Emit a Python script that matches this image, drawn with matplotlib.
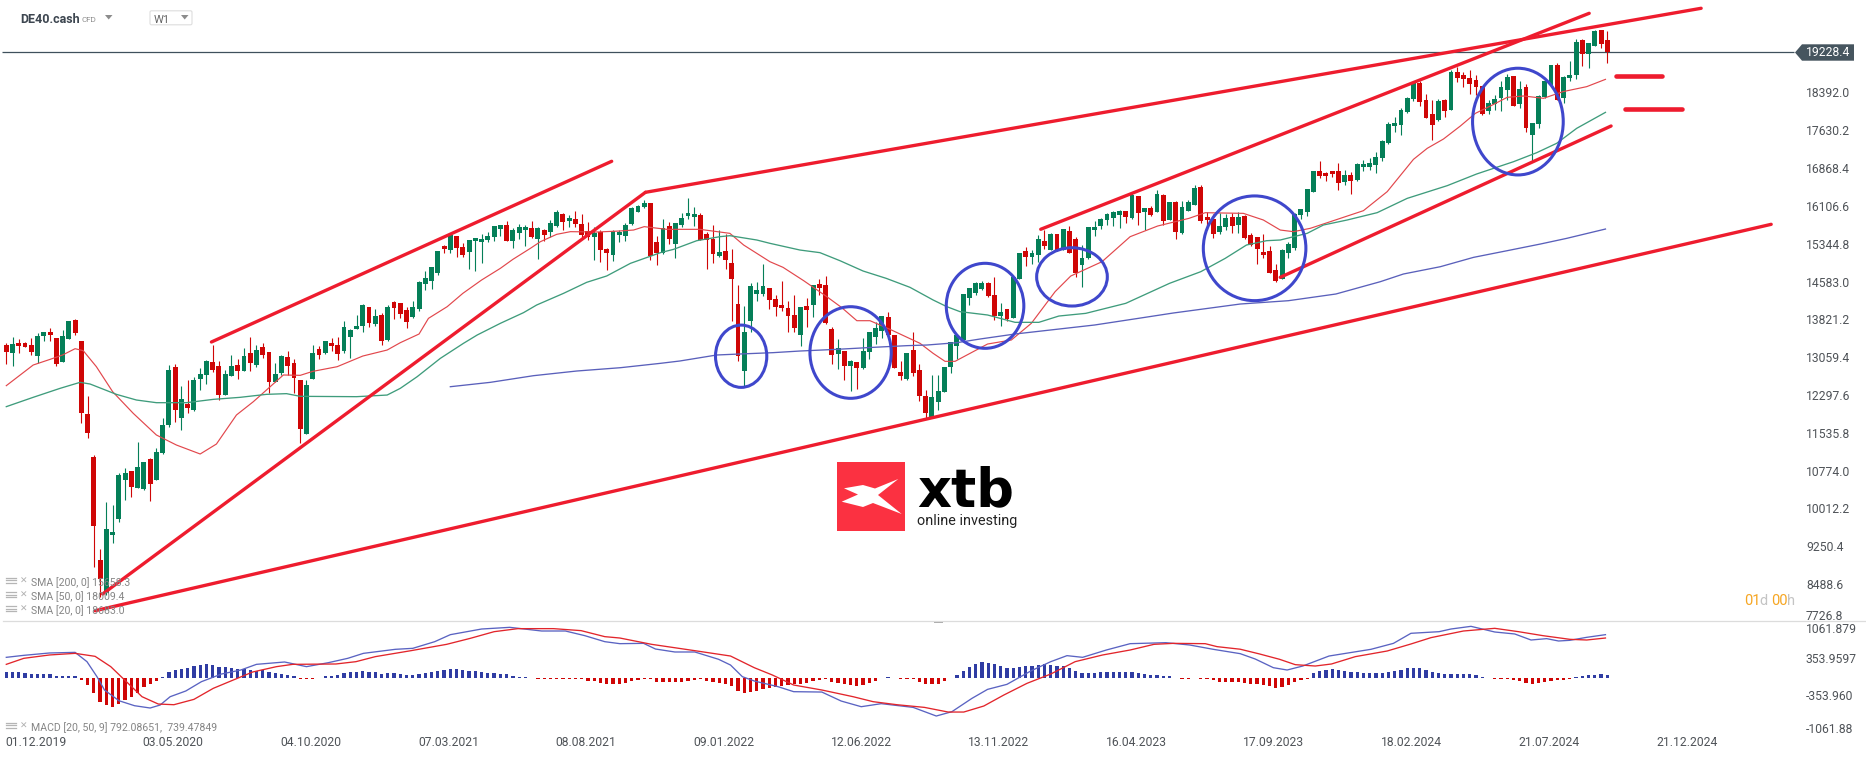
import numpy as np
import matplotlib
matplotlib.use("Agg")
import matplotlib.pyplot as plt
from matplotlib.patches import Ellipse, Polygon, Rectangle, FancyBboxPatch

plt.rcParams["font.family"] = ["Roboto", "DejaVu Sans"]

# weekly candles DE40.cash
opens = [13334,13180,13375,13375,13334,13119,13522,13596,13475,12998,
13462,13838,13415,11944,11077,9002,8330,9505,9828,10614,
10795,10453,10432,11037,10614,11158,11722,12891,11863,12145,
12024,12649,12730,12992,12911,12327,12710,12931,12810,13173,
12931,13294,13193,12589,12770,13092,12971,12629,11541,12649,
13254,13173,13374,13334,13213,13495,13656,13717,14100,13757,
13939,13435,14201,14180,14039,13898,14060,14563,14624,14785,
15329,15248,15531,15309,15208,15430,15410,15450,15510,15672,
15752,15430,15591,15651,15692,15470,15651,15611,15732,15974,
15833,15873,15772,15631,15510,15611,15269,15148,15551,15531,
15772,16014,16115,16196,15410,15188,15732,15369,15752,15934,
15914,15954,15571,15470,15128,15228,14986,14160,12810,13818,
14362,14362,14483,14261,14140,14080,13939,13536,14120,14140,
14563,14543,13656,13153,13213,12911,12991,12871,13193,13496,
13616,13898,13536,12790,12649,13233,12830,12306,11883,12185,
12387,12891,13314,13435,14281,14382,14462,14584,14342,13925,
14060,13878,14664,15228,15107,15148,15430,15248,15571,15248,
15631,15470,14946,15087,15651,15732,15853,15893,15954,16034,
15893,16337,16014,16095,16014,16357,15853,16216,15591,16034,
16155,16518,15913,15873,15611,15712,15913,15752,15934,15551,
15510,15208,15228,14845,14664,15188,15282,15954,16014,16417,
16840,16800,16840,16840,16619,16760,16659,16921,16921,16961,
17102,17404,17747,17767,18029,18291,18614,18271,17989,17868,
18271,18069,18835,18775,18714,18674,18553,18049,18190,18311,
18472,18755,18190,18533,17566,17787,18338,18573,18976,18311,
18714,18775,19480,19198,19359,19681,19480]

highs = [13368,13489,13448,13388,13475,13569,13589,13670,13475,13636,
13825,13858,13415,12307,11118,9223,10171,10110,10748,10856,
10795,11380,10977,11057,11265,11863,12931,12951,12508,12629,
12683,12864,13025,13334,13012,12830,13133,13052,13274,13495,
13334,13375,13193,12971,13133,13213,13052,12629,12629,13334,
13314,13415,13475,13495,13818,13656,13939,14160,14100,14060,
13979,14140,14221,14180,14100,14221,14624,14825,14906,15228,
15349,15571,15531,15390,15450,15490,15571,15611,15732,15752,
15833,15692,15772,15752,15833,15712,15672,15853,16054,15994,
15954,16034,15974,15813,15712,15651,15289,15651,15651,15792,
16115,16155,16256,16196,15531,15873,15813,15793,15994,16296,
16115,15994,15611,15752,15651,15571,15269,14543,14120,14583,
14604,14966,14483,14342,14624,14221,14342,14100,14281,14543,
14664,14725,13697,13455,13213,13032,12991,13475,13596,13798,
13918,13999,13536,13012,13173,13596,12951,12427,12730,12730,
12891,13394,13536,14362,14483,14604,14624,14604,14710,14180,
14060,14711,15188,15309,15248,15551,15651,15584,15571,15672,
15732,15510,15349,15712,15833,15893,15987,16034,16054,16034,
16417,16337,16095,16135,16457,16377,16216,16236,16236,16256,
16558,16558,16014,15974,15994,15974,15994,16014,15954,15591,
15510,15571,15329,14966,15269,15409,15987,16068,16477,16840,
17042,16820,16840,17001,16860,16820,17001,17062,17102,17223,
17465,17828,17928,18110,18331,18647,18647,18392,18271,18291,
18291,18875,18936,18835,18875,18775,18553,18271,18372,18654,
18795,18755,18654,18593,17807,18372,18674,18976,19010,18755,
19057,19500,19500,19420,19681,19681,19661]

lows = [12951,12918,13180,13294,13139,12978,13408,13422,12918,12992,
13455,13542,11769,11467,8867,8263,8296,9351,9774,10211,
10271,10446,10412,10191,10614,11144,11682,11783,11621,11964,
11998,12427,12548,12790,12226,12320,12703,12649,12804,12810,
12891,13072,12367,12582,12730,12730,12367,11359,11534,12649,
13052,13159,13213,13032,13173,13072,13650,13596,13697,13717,
13334,13415,13858,13878,13677,13878,14019,14442,14463,14745,
15188,15188,15107,15107,14866,14825,14986,15410,15430,15531,
15430,15289,15470,15329,15490,15067,15430,15510,15712,15651,
15712,15712,15470,15450,15047,15007,14845,15027,15410,15430,
15759,16007,16101,15047,14946,15168,15369,15087,15712,15873,
15732,15443,14866,14986,15107,14866,13818,13012,12508,13596,
14221,14321,14060,13918,14019,13596,13596,13314,13697,13898,
14342,13757,12951,12850,12629,12407,12447,12850,13052,13354,
13475,13536,12871,12629,12629,12709,12206,11863,11863,12024,
12380,12770,13052,13401,14140,14342,14442,14300,13838,13723,
13820,13878,14657,14926,14966,15007,15269,15248,15228,15248,
15181,14704,14503,15067,15531,15672,15752,15732,15692,15792,
15873,15752,15651,15934,16007,15752,15846,15470,15571,16028,
16148,15792,15651,15490,15571,15651,15591,15591,15470,15329,
14966,15087,14785,14604,14664,15087,15248,15873,15933,16410,
16699,16639,16719,16457,16558,16377,16639,16840,16860,16800,
17042,17384,17626,17566,18009,18251,18150,17908,17465,17848,
17928,18069,18634,18533,18392,18372,17969,17989,18069,18049,
18271,18150,18116,17626,17022,17707,18305,18553,18271,18210,
18654,18694,18956,18916,19352,19319,19017]

closes = [13200,13354,13321,13301,13193,13516,13589,13542,12958,13516,
13818,13583,11971,11561,9694,8619,9626,9566,10715,10755,
10473,10876,10977,10533,11178,11722,12830,12024,12246,12065,
12629,12750,13012,12830,12327,12750,12911,12810,13113,12971,
13233,13133,12589,12750,13113,12911,12669,11642,12528,13173,
13133,13415,13314,13153,13697,13636,13717,14140,13777,13918,
13415,14100,14080,13959,13798,14100,14604,14684,14906,15228,
15269,15551,15289,15148,15450,15490,15470,15531,15732,15752,
15430,15651,15712,15712,15510,15692,15551,15792,16014,15813,
15893,15772,15551,15510,15591,15248,15188,15631,15611,15752,
16095,16135,16196,15128,15188,15692,15470,15793,15893,15994,
15974,15450,15450,15168,15208,15047,14664,13112,13596,14523,
14442,14523,14241,14100,14080,13918,13677,14100,14039,14543,
14483,13777,13133,13274,12911,13012,12871,13213,13596,13677,
13918,13536,12871,12709,13173,12770,12306,11964,12286,12407,
12891,13394,13536,14362,14483,14583,14583,14328,13925,13999,
13860,14711,15188,15107,15188,15470,15329,15571,15248,15672,
15181,14785,15087,15712,15712,15873,15974,16014,16034,15913,
16357,15994,16095,15954,16377,15833,16216,15611,16115,16216,
16498,15833,15853,15571,15732,15893,15732,15913,15490,15349,
15269,15148,14785,14624,15248,15369,15974,16068,16477,16840,
16739,16739,16780,16598,16760,16639,16981,16981,17001,17122,
17445,17787,17807,18069,18311,18614,18231,17908,17767,18251,
18049,18835,18714,18694,18593,18533,17989,18210,18291,18533,
18734,18150,18493,17707,17807,18352,18654,18976,18271,18734,
18775,19440,19198,19420,19661,19399,19238]

sma20_w = [0,4.3,7,9,11,12.3,14.4,17,20.3,24,27.2,31,33.6,36.8,39.5,41.9,44.3,47,49,52.9,57,60.9,63,66,67.5,70.5,73,76,79,81,83.8,85.4,88,90.2,94.4,98,100.3,102,105.6,110.9,115.7,117.9,122.1,124.2,127.5,131.2,133.6,136,138.1,141.3,146.1,148.2,150.1,151.7,156.9,160.7,163.9,167.7,170.2,175.2,179.7,184.1,189.1,191.7,197.8,201,203.7,205.8,208.5,211.7,217,220.8,223.4,225,227.2,229.8,232.5,234.9,237.3,240,242.6,245.8,248.9,252.7,255.7]
sma20 = [12515,12931,13045,13133,13260,13220,12898,12394,11957,11521,11319,11138,11339,11924,12192,12461,12730,12723,12803,12897,13112,13233,13381,13556,13871,14107,14375,14644,14879,15060,15282,15416,15564,15618,15611,15631,15651,15719,15665,15665,15584,15349,15013,14899,14630,14308,14086,13824,13824,13650,13368,13166,13005,13005,13354,13435,13771,14409,14724,15013,15517,15732,15886,16000,15987,15853,15651,15618,15685,15819,16041,16424,16827,17075,17297,17485,17747,18002,18150,18325,18352,18305,18439,18540,18687]

sma50_w = [0,4.3,8.6,11.8,13.4,17.6,20.8,24,28.8,33.1,37.4,41.6,44.8,47,56,60.9,63,65.7,69.4,73.1,75.3,79,82.7,84.8,89.1,92.8,96,99.8,104.6,106.7,110.4,114.1,115.7,120,122.1,126.9,130.1,133.3,137,140.7,144.5,148.2,150.4,152.5,156.9,161.3,165.1,168.3,172.6,179,186,191,194.9,198.3,201.5,203.7,208,210.6,214.4,219.2,224,230.4,235.1,241,244.7,247.9,251.1,255.7]
sma50 = [12092,12280,12461,12582,12548,12340,12226,12172,12172,12239,12280,12340,12354,12300,12293,12326,12461,12696,13065,13368,13536,13771,13986,14140,14375,14597,14725,14980,15195,15262,15436,15517,15537,15450,15383,15248,15195,15033,14825,14677,14496,14241,14106,14006,13939,13791,13791,13918,13972,14174,14577,14812,15080,15349,15436,15450,15584,15752,15853,16001,16289,16545,16780,17028,17209,17398,17700,18022]

sma200_w = [71,77.4,84.3,91.2,98.2,104.6,107.7,113.6,117.3,122.6,126.9,132.8,138.6,144,147.2,152,155.7,161.3,174,181,186.6,197.3,205,212.6,219.7,223.4,229.3,234.6,240,245.3,249.5,255.7]
sma200 = [12494,12582,12716,12810,12877,12965,13012,13133,13153,13180,13213,13247,13287,13321,13334,13381,13455,13556,13737,13871,13979,14160,14227,14362,14610,14765,14912,15100,15235,15369,15483,15671]

# macd pane
macd_hist = [121,121,108,89,76,76,76,76,45,45,45,45,
-38,-134,-280,-452,-516,-554,-497,-420,-363,-280,-166,-121,-51,
19,115,153,178,185,229,255,261,248,217,210,191,172,166,153,140,146,108,96,76,51,45,
-19,-25,-19,0,
38,45,57,102,115,121,127,121,108,83,96,89,76,64,57,83,102,121,140,159,172,166,153,134,134,121,102,89,76,70,45,25,19,0,
-13,-13,-13,-13,-13,-13,-19,-25,-51,-64,-96,-108,-108,-108,
-102,-57,-38,-13,-13,-76,-76,-76,-70,-70,-57,-38,-25,-51,-76,-96,-115,-153,-248,-287,-268,-242,-210,-191,-166,-153,-134,-115,-115,-96,-64,-38,-25,-76,-89,-115,-127,-153,-127,-89,-57,0,19,0,
-13,-13,-19,-70,-108,-115,-115,-57,0,
57,134,204,274,306,287,268,229,191,191,210,229,229,248,261,248,229,229,191,134,96,96,96,115,115,115,115,115,115,96,76,57,57,38,38,0,
-13,-13,0,-13,-25,-45,-70,-70,-70,-70,
-102,-115,-115,-134,-153,-191,-178,-140,-76,-45,-13,
89,127,159,172,153,140,121,115,96,96,96,96,115,134,159,185,197,191,153,115,89,76,76,76,76,76,57,13,
-6,-19,-25,-25,-38,-51,-89,-115,-89,-70,-51,-45,-38,-13,
13,32,64,64,76,57]

macd_w = [0,2.8,6.9,11,12.9,14.5,15.7,18,20.5,23,24.6,26.2,28.7,31.2,34.4,37.5,40,44.5,48,51.5,54.6,57.1,62.2,65,68.5,71,76,80.5,85.6,89.4,92.5,95.7,98.1,101.9,103.8,106.9,110.1,113.9,115.8,117.7,119.6,123.4,125.9,130.4,133.5,136.7,139.9,145,148.7,151.2,154.4,156.9,160,163.9,167,169.6,172.1,175.9,179.7,185.4,189.2,193,197.3,199.7,202.6,204.8,207.3,211.5,218.2,221.8,224.6,229.1,231,234.2,238,241.2,243.8,246.3,248.2,250,252.7,255.7]
macd = [395,433,478,490,312,25,-229,-433,-529,-573,-516,-357,-248,-70,76,153,261,306,217,293,376,471,548,567,694,828,936,968,898,898,809,694,656,662,554,497,497,357,248,25,-57,-166,-261,-268,-440,-548,-490,-561,-726,-643,-389,-217,-121,140,312,427,395,535,656,675,631,548,465,363,197,153,229,420,548,662,854,885,936,987,879,841,726,752,707,720,777,828]

signal_w = [0,2.8,6.9,11,14.2,16.7,19.2,21.7,24.3,26.8,30,33.1,36.3,39.4,43.2,45.8,52.7,55.9,59,64.7,70.4,74.2,78,81.8,87.5,91.9,95.7,98.1,103.2,110.1,115.8,119.6,122.5,125.9,130.4,135.4,138.6,142.4,146.8,150.6,153.1,156.3,159.5,163.2,167,170.9,175.3,179.7,183.5,186.6,191.7,193.6,197.3,200.4,203.6,206.1,209.3,211.9,215.7,220.8,224.6,227.8,233,238,241.8,245.7,250,252.7,255.7]
signal = [261,376,440,471,414,217,-70,-357,-497,-510,-408,-197,-38,115,217,261,268,312,408,522,643,758,885,943,943,905,790,764,643,522,420,197,57,-134,-229,-357,-452,-510,-561,-650,-650,-535,-325,-102,76,312,440,535,643,662,656,599,550,459,357,255,229,268,408,516,650,771,898,949,885,809,739,726,764]

# hand drawn trendlines (week, price)
trend_lines = [
    ([32.8, 96.8], [13395, 17036]),
    ([15.4, 102.2], [8317, 16411]),
    ([102.2, 271.0], [16411, 20119]),
    ([14.2, 282.2], [7980, 15766]),
    ([165.4, 253.1], [15666, 20018]),
    ([203.7, 256.6], [14698, 17747]),
]
level_lines = [([257.4, 264.7], [18749, 18749]), ([258.8, 267.9], [18090, 18090])]

# blue circles: week, price, width in weeks, height in price
circles = [
    (117.5, 13108, 8.2, 1255),
    (135.0, 13183, 13.0, 1846),
    (156.5, 14124, 12.4, 1713),
    (170.4, 14707, 11.3, 1175),
    (199.6, 15283, 16.4, 2110),
    (241.7, 17836, 14.5, 2150),
]

price_labels = ["18392.0","17630.2","16868.4","16106.6","15344.8","14583.0","13821.2","13059.4","12297.6","11535.8","10774.0","10012.2","9250.4","8488.6","7726.8"]
price_ticks = [18392,17630.2,16868.4,16106.6,15344.8,14583,13821.2,13059.4,12297.6,11535.8,10774,10012.2,9250.4,8488.6,7860]
macd_labels = ["1061.879","353.9597","-353.960","-1061.88"]
macd_ticks = [936,354,-354,-993]
date_labels = ["01.12.2019","03.05.2020","04.10.2020","07.03.2021","08.08.2021","09.01.2022","12.06.2022","13.11.2022","16.04.2023","17.09.2023","18.02.2024","21.07.2024","21.12.2024"]
date_weeks = [4.7 + 22*k for k in range(13)]
last_price = 19228.4

GREEN = "#057f58"
RED = "#cf0606"
DRAW_RED = "#ee1c2e"
CIRCLE = "#3f47cc"
TXT = "#4f5358"

fig = plt.figure(figsize=(18.66, 7.59), dpi=100, facecolor="white")
ax = fig.add_axes([0, 138/759, 1, 621/759])
ax2 = fig.add_axes([0, 0, 1, 138/759])
ui = fig.add_axes([0, 0, 1, 1])   # header, tag and logo in pixels
ui.set_xlim(0, 1866)
ui.set_ylim(759, 0)
ui.axis("off")
ui.patch.set_alpha(0)

for a in (ax, ax2):
    a.set_xlim(-1.007, 297.36)
    a.axis("off")
ax.set_ylim(7773, 20286)
ax2.set_ylim(-1547, 1089)

# candles
o = np.array(opens)
h = np.array(highs)
l = np.array(lows)
c = np.array(closes)
weeks = np.arange(len(o))
colors = [GREEN if c[i] >= o[i] else RED for i in weeks]
ax.vlines(weeks, l, h, colors=colors, linewidth=0.8, zorder=2)
ax.bar(weeks, np.abs(c-o), bottom=np.minimum(o, c), width=0.78, color=colors, zorder=2)

ax.plot(sma20_w, sma20, color="#e2474c", lw=0.85, zorder=3)
ax.plot(sma50_w, sma50, color="#3f9c7c", lw=0.95, zorder=3)
ax.plot(sma200_w, sma200, color="#5a60bb", lw=0.95, zorder=3)

# last price line
ax.hlines(last_price, -0.7, 285.9, color="#3f505c", lw=0.9, zorder=1)

for xs, ys in trend_lines:
    ax.plot(xs, ys, color=DRAW_RED, lw=2.4, solid_capstyle="round", zorder=5)
for xs, ys in level_lines:
    ax.plot(xs, ys, color=DRAW_RED, lw=3.3, solid_capstyle="round", zorder=5)
for cx, cy, w, hh in circles:
    ax.add_patch(Ellipse((cx, cy), w, hh, fill=False, edgecolor=CIRCLE, lw=2.2, zorder=6))

for val, txt in zip(price_ticks, price_labels):
    ax.text(0.9678, val, txt, transform=ax.get_yaxis_transform(), ha="left", va="center",
            fontsize=8.7, color=TXT, clip_on=False)

# macd pane
hist = np.array(macd_hist)
hist_w = np.arange(len(hist))
ax2.bar(hist_w, hist, width=0.52, color=["#2f3ca3" if v > 0 else RED for v in hist], zorder=2)
ax2.plot(macd_w, macd, color="#5a63c2", lw=0.95, zorder=3)
ax2.plot(signal_w, signal, color="#e2252b", lw=0.95, zorder=3)
for val, txt in zip(macd_ticks, macd_labels):
    ax2.text(0.9678, val, txt, transform=ax2.get_yaxis_transform(), ha="left", va="center",
             fontsize=8.7, color=TXT, clip_on=False)
for wk, txt in zip(date_weeks, date_labels):
    ax2.text(wk, -1236, txt, ha="center", va="center", fontsize=8.7, color=TXT)

# separator between panes
ui.plot([3, 1866], [621.3, 621.3], color="#dcdcdc", lw=0.9)
ui.add_patch(Rectangle((934, 621), 9, 2, color="#a9a9a9", lw=0))

# header
ui.text(20, 19.5, "DE40.cash", fontsize=9, fontweight="bold", color="#3d4650", va="center")
ui.text(81, 19.5, "CFD", fontsize=5.8, color="#8c8c8c", va="center")
ui.add_patch(Polygon([(105, 15), (112.5, 15), (108.7, 19.5)], color="#8c8c8c", lw=0))
ui.add_patch(FancyBboxPatch((150, 10.8), 42, 14, boxstyle="round,pad=0,rounding_size=1.5",
                            fc="white", ec="#dddddd", lw=0.8))
ui.text(154, 20, "W1", fontsize=8, color="#666666", va="center")
ui.add_patch(Polygon([(181, 15), (188.5, 15), (184.7, 19.5)], color="#8c8c8c", lw=0))

# price tag
ui.add_patch(Polygon([(1795, 52.5), (1802, 44.3), (1854, 44.3), (1854, 60.7), (1802, 60.7)],
                     color="#46555f", lw=0))
ui.text(1806, 53, "19228.4", fontsize=8.7, color="white", va="center")

# indicator legend
legend_rows = [(582.7, "SMA [200, 0] 15658.3"), (597, "SMA [50, 0] 18009.4"), (611, "SMA [20, 0] 18683.0"),
               (727.7, "MACD [20, 50, 9] 792.08651,  739.47849")]
for y, txt in legend_rows:
    for dy in (-4, -1.5, 1):
        ui.plot([6, 16], [y-1+dy, y-1+dy], color="#b5b5b5", lw=0.9)
    ui.text(24, y-2, "\u2715", fontsize=6.5, color="#b0b0b0", ha="center", va="center", family=["DejaVu Sans"])
    ui.text(31, y, txt, fontsize=7.6, color="#858585", va="center")

# countdown
ui.text(1744, 601, "01", fontsize=10.5, color="#f6a623", va="center")
ui.text(1759, 601, "d", fontsize=10.5, color="#c4c4c4", va="center")
ui.text(1771.5, 601, "00", fontsize=10.5, color="#f6a623", va="center")
ui.text(1787, 601, "h", fontsize=10.5, color="#c4c4c4", va="center")

# xtb logo
ui.add_patch(Rectangle((837.3, 462.3), 68, 68.4, color="#fb3141", lw=0))
ui.add_patch(Polygon([(898.3, 479), (878, 495), (901.7, 514), (873, 503), (863, 507),
                      (841.7, 501.7), (858, 494.5), (844, 488.3), (863, 485), (875, 488.5)],
                     color="white", lw=0))
ui.text(917, 506.7, "xtb", fontsize=38, fontweight="bold", color="black", va="baseline", family=["DejaVu Sans"])
ui.text(917, 520.7, "online investing", fontsize=10.4, color="#222222", va="center")

fig.savefig("out.png", dpi=100)
